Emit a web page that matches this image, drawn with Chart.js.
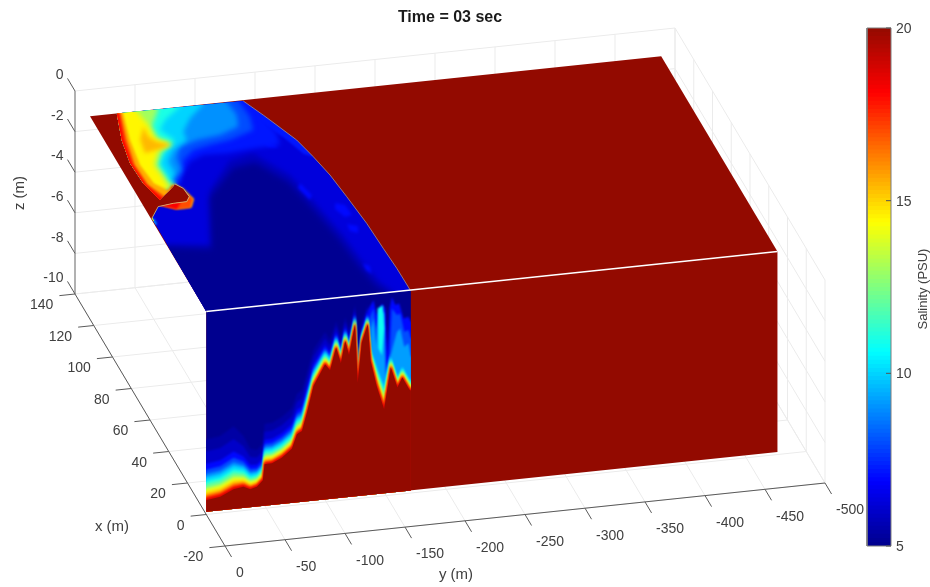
<!DOCTYPE html>
<html><head><meta charset="utf-8">
<style>html,body{margin:0;padding:0;background:#fff}canvas{display:block}</style>
<script src="https://cdn.jsdelivr.net/npm/chart.js@4"></script>
</head><body><canvas id="c" width="930" height="587"></canvas>
<script>
/* ---------- tick labels ---------- */
const titleText = 'Time = 03 sec';
const xTicks = [-20,0,20,40,60,80,100,120,140];
const yTicks = [0,-50,-100,-150,-200,-250,-300,-350,-400,-450,-500];
const zTicks = [0,-2,-4,-6,-8,-10];
const colorTicks = [5,10,15,20];

/* ---------- surface extents (m) ---------- */
const surfaceXMax = 124, surfaceYMin = -476, floorZ = -9.87, plumeYEnd = -170.5;

/* ---------- front face (x = 0): saline interface ---------- */
const frontY = [0,-11.7,-22.8,-31,-36.7,-42.2,-47.2,-48.6,-54.8,-63,-71.4,-75.6,-79.8,-84,-89.4,-99,-103.2,-108.2,-112.2,-115.8,-119,-124,-126.2,-129.6,-134.6,-137,-142,-148.2,-153.8,-159.3,-163.4,-169.3,-170.5];
const frontZ = [-9.3,-9.2,-8.9,-8.83,-8.99,-8.89,-8.6,-7.83,-7.82,-7.59,-7.2,-6.52,-6.38,-5.5,-4.23,-3.22,-3.54,-2.45,-3.25,-2.17,-2.88,-1.4,-4.29,-2.34,-1.46,-3.29,-4.55,-5.73,-3.71,-4.73,-4.27,-4.91,-4.95];
const frontThick = [3,3,3.1,2.5,2,1.8,1.8,2,2,2,2,2,2,2,1.8,1.6,1.5,1.3,1.3,1.2,1.2,1,1,1,1,1.5,2.5,3,1.4,1.4,1.4,1.4,1.4];
const bandSalinity = [5.4,6,7,8,9,10,11,12,13,14,15,16,17,18,19];
const bandFraction = [1,.8,.6,.5,.43,.38,.32,.27,.22,.18,.14,.1,.07,.04,.02];
/* plumes near the right end of the front face: [y, z] */
const plumeS7  = [[-132.5,-1.26],[-135.3,-.7],[-139.4,-.31],[-142.2,-1.07],[-146.4,-.52],[-149.2,-.78],[-151.1,-3.25],[-152.8,-.8],[-154.7,-.24],[-157.5,-.66],[-160.8,-.6],[-164.4,-1.36],[-168.6,-1.3],[-170.5,-1.56]];
const plumeS8  = [[-135.3,-1.27],[-139.4,-.72],[-141.7,-1.72],[-145,-.76],[-148.3,-.94],[-150,-3.9],[-152.8,-3.1],[-154.7,-.81],[-158.9,-1.16],[-161.7,-1.1],[-165,-2.02],[-168.6,-1.96],[-170.5,-2.38]];
const plumeS95 = [[-137.2,-1.7],[-139.4,-1.2],[-141.7,-2.54],[-144.2,-.91],[-147.8,-1.02],[-149.4,-4.15],[-153.3,-3.18],[-158.9,-1.99],[-161.7,-1.84],[-165,-2.76],[-168.6,-2.61],[-170.5,-3.28]];
const streakS11= [[-142.8,-.74],[-147.2,-.6],[-148.3,-1.76],[-146.4,-3.06],[-143.6,-2.72]];

/* ---------- top face (z = 0): contours [x, y] ---------- */
const redEdge = [[124,-22.3],[107.8,-13.7],[93.4,-9.4],[80.5,-10.5],[69.6,-15.7]];
const lobeTop = [78.1,-35];
const bumpEdge = [[59,-.7],[65.7,-11.3],[66.7,-24.7],[66.9,-36],[69.7,-40.3],[75,-39.5],[78.1,-35]];
const outerFront = [[123.5,-127.3],[113.8,-136.4],[110.4,-139.4],[96.8,-151],[85.8,-156.2],[73.8,-160.8],[59.8,-163.8],[42.6,-167],[26.7,-168.3],[13.9,-169.6],[0,-170]];
const kernelOuter = [[-8,8],[42.2,8],[42.2,0],[39.3,-36.3],[72.4,-59.6],[89,-89.3],[91.8,-110.7],[76.3,-129.4],[56.7,-136.6],[37.1,-143],[19.8,-146],[6.7,-150.1],[.6,-156],[-8,-156]];
const kernelInner = [[-8,8],[41,8],[41,0],[37,-33],[68,-56],[84,-88],[86,-108],[72,-125],[54,-132],[35,-138],[18,-141],[5,-145],[0,-150],[-8,-150]];
const rimBand = [[130,-127.3],[118,-140],[104,-154],[90,-162],[85.8,-156.2],[88,-150],[98,-143],[110,-131],[122,-124]];
const contourS7 = [[124,-127],[115.1,-134.7],[102.1,-138.4],[94.8,-135.6],[94.5,-113.1],[93.3,-89.8],[93.8,-70.8],[90.6,-57.2],[82.1,-43.6],[77.2,-38.4],lobeTop];
const contourS8 = [[124,-123.6],[113.7,-125.2],[105.5,-121.6],[101,-98.7],[99.2,-80.7],[97.3,-65.3],[92,-52.7],[84.1,-45.2],[78.4,-36.6],lobeTop];
const contourS9 = [[124,-113.9],[115.6,-115.6],[108.5,-111.5],[104.6,-93.2],[103.1,-72.6],[100.1,-56.3],[93.4,-48.3],[86.1,-46.7],[80.7,-34.3],lobeTop];
const contourS10= [[124,-94.4],[116.5,-77.5],[108.9,-65.9],[103.7,-64.8],[98.5,-49.6],[92,-40.2],[84.5,-40],[79.2,-32.2],lobeTop];
const contourS11= [[124,-75],[117.1,-57.1],[111.4,-48.4],[104.4,-55.6],[98.1,-42.3],[91.5,-32.9],[83,-33.2],[78.8,-31.9],lobeTop];
const contourS13= [[124,-56.9],[113.9,-43.5],[106.5,-43.2],[102.5,-52.7],[98.3,-39.7],[90.6,-30.1],[82.1,-30.6],[78.3,-30.5],lobeTop];
const contourS145=[[124,-38.9],[115.1,-41.7],[106.7,-40.6],[102.4,-49.8],[99.5,-37.8],[90.9,-27.4],[82.3,-28.6],[78,-28.5],lobeTop];
const spineS153 = [[114.4,-37],[108.1,-36.2],[104.6,-40.4],[101.6,-50.6],[99.9,-38.1],[98.4,-25.8],[106.6,-28.2]];
const crescentS156=[[124,-27.5],[107.3,-20.3],[91.7,-16.5],[79.9,-18.8],[75,-26.2],[77.7,-31.9],[78.1,-35],[75,-39.5],[68,-43],[63,-37],[63,-24.7]];
const crescentS17 =[[124,-25.5],[107.5,-17.7],[92,-12.5],[79.2,-13.6],[71.3,-21.3],[77,-32.8],[74.5,-37.7],[68,-42],[63,-36],[63,-25]];
const crescentS185=[[124,-24],[107.6,-15.6],[92.8,-10.9],[79.8,-11.9],[70.2,-18.5],[72.3,-27.7],[67.8,-32.4],[63,-24.7]];
const lobeCore = [[76.7,-31.2],[75.2,-36.9],[69.9,-38.8],[67.8,-32.4],[72.3,-27.7]];
const tipS9 = [[59,-.3],[59,-2.2],[55.5,-2.4],[53.5,4],[59,4]];
const tipS14 = [[59,-.5],[59.5,-1.6],[57.4,-1.4],[56.8,4],[59,4]];
const ripples = [
  [[56.7,-151.7],[54.9,-158.5],[48.6,-159.4],[47.8,-152.9],[52.6,-149.2]],
  [[101,-122.1],[97.2,-130.7],[93.2,-132.6],[94.4,-125.2]],
  [[43.5,-151.3],[41.6,-158.9],[37.4,-155.7],[39.1,-150.3]],
  [[19.2,-145.5],[16.9,-149.6],[12,-147.5],[14.8,-144.7]],
  [[70.9,-133.5],[63,-137.3],[60.1,-133.5],[68,-129.7]]
];

/* ---------- helpers ---------- */
const project = (x,y,z) => ({x:225-(x+20)*.9375-y*1.2, y:546-(x+20)*1.575+y*.126-(z+10)*20.3});
const clamp = v => Math.max(0,Math.min(1,v));
function jet(s){
  const t=(s-5)/15;
  let r=clamp(Math.min(4*t-1.5,-4*t+4.5)), g=clamp(Math.min(4*t-.5,-4*t+3.5)), b=clamp(Math.min(4*t+.5,-4*t+2.5));
  if(t>.875) r=.578+.422*(1-t)/.125;
  if(t<.125) b=.55+.45*t/.125;
  const gExtra = t>.875 ? 10*(t-.875)/.125 : 0;
  return `rgb(${Math.round(r*255)},${Math.round(g*255+gExtra)},${Math.round(b*255)})`;
}
const sets=[];
function poly(points,color,soft,blur){
  const pts=points.concat([points[0]]);
  sets.push({data:pts,showLine:true,pointRadius:0,borderWidth:0,borderColor:color,backgroundColor:color,fill:'shape',tension:0,soft:soft||null,blur:blur||1,order:-sets.length});
}
function line(points,color,width){
  sets.push({data:points,showLine:true,pointRadius:0,borderWidth:width,borderColor:color,fill:false,tension:0,order:-sets.length});
}
const top3 = a => a.map(p=>project(p[0],p[1],0));
const front3 = a => a.map(p=>project(0,p[0],p[1]));

/* ---------- box grid ---------- */
const gridColor='#ebebeb';
const axX0=-20,axX1=140,axY0=0,axY1=-500,axZ0=-10,axZ1=0;
yTicks.forEach(y=>line([project(axX0,y,axZ0),project(axX1,y,axZ0),project(axX1,y,axZ1)],gridColor,1));
xTicks.forEach(x=>line([project(x,axY0,axZ0),project(x,axY1,axZ0),project(x,axY1,axZ1)],gridColor,1));
zTicks.forEach(z=>line([project(axX1,axY0,z),project(axX1,axY1,z),project(axX0,axY1,z)],gridColor,1));

/* ---------- axes ---------- */
const axisColor='#5a5a5a';
line([project(axX0,0,axZ0),project(axX1,0,axZ0)],axisColor,1);
line([project(axX0,0,axZ0),project(axX0,axY1,axZ0)],axisColor,1);
line([project(axX1,0,axZ0),project(axX1,0,axZ1)],'#a0a0a0',1.6);
xTicks.forEach(x=>line([project(x,0,axZ0),project(x,13,axZ0)],axisColor,1));
yTicks.forEach(y=>line([project(axX0,y,axZ0),project(axX0-7,y,axZ0)],axisColor,1));
zTicks.forEach(z=>line([project(axX1,0,z),project(axX1+8,0,z)],axisColor,1));

/* ---------- top face ---------- */
const RED=jet(20);
poly(top3([[0,0],[0,surfaceYMin],[surfaceXMax,surfaceYMin],[surfaceXMax,0]]),RED);
const redBack=[...redEdge].reverse();
const redBackOut=redBack.map(p=>[p[0],p[1]+12]);
const water=[[0,-170],[0,0],...bumpEdge,[76,-31],...redBack,...outerFront.slice(0,-1)];
const extendBack=c=>[[134,c[0][1]],...c,...redBackOut,[134,-10]];
poly(top3(water),jet(6.3));
poly(top3(kernelOuter),jet(5.8),'top',2.5);
poly(top3(kernelInner),jet(5.1),'top',3);
poly(top3(rimBand),jet(7.2),'top',1.2);
ripples.forEach(r=>poly(top3(r),jet(7),'top',1.4));
[[contourS7,7.2],[contourS8,8],[contourS9,9],[contourS10,10],[contourS11,11],[contourS13,13],[contourS145,14.5]].forEach(([c,s])=>poly(top3(extendBack(c)),jet(s),'top',2.4));
poly(top3(spineS153),jet(15.4),'top',2);
[[crescentS156,15.6],[crescentS17,17],[crescentS185,18.2]].forEach(([c,s])=>poly(top3(extendBack(c)),jet(s),'top',1.2));
poly(top3(lobeCore),jet(20),'top',.8);
poly(top3(tipS9),jet(9),'top',.8);
poly(top3(tipS14),jet(14),'top',.6);
line(top3(bumpEdge),'#d9c27a',.8);
line(top3(outerFront),'#a88c84',.8);

/* ---------- front face ---------- */
poly(front3([[0,0],[surfaceYMin,0],[surfaceYMin,floorZ],[0,floorZ]]),RED);
const blueBase=[[0,0],[plumeYEnd,0],...frontY.map((y,i)=>[y,frontZ[i]-.25]).reverse()];
poly(front3(blueBase),jet(5.05));
function bandPoly(fr){
  const curve=frontY.map((y,i)=>[y,Math.min(-.02,frontZ[i]+frontThick[i]*fr)]);
  return front3([[6,curve[0][1]],...curve,[plumeYEnd-6,curve[curve.length-1][1]],[plumeYEnd-6,floorZ-1],[6,floorZ-1]]);
}
function plumePoly(p){return front3([...p,[plumeYEnd-6,p[p.length-1][1]],[plumeYEnd-6,floorZ-1],[p[0][0],floorZ-1]]);}
bandSalinity.forEach((s,i)=>{
  poly(bandPoly(bandFraction[i]),jet(s),'front',.8);
  if(s===7) poly(plumePoly(plumeS7),jet(7),'front',1);
  if(s===8) poly(plumePoly(plumeS8),jet(8),'front',1);
  if(s===9) poly(plumePoly(plumeS95),jet(9.2),'front',1);
  if(s===10) poly(front3(streakS11),jet(10.8),'front',1.2);
});
poly(bandPoly(0),RED,'front',.6);

/* edge highlight between the faces */
line([project(0,0,0),project(0,surfaceYMin,0)],'#ffffff',1.5);

/* ---------- colour bar ---------- */
const barLeft=867,barRight=891,barBottom=546,barPerUnit=518/15;
const barY=s=>barBottom-(s-5)*barPerUnit;
for(let k=0;k<128;k++){
  const s0=5+15*k/128,s1=5+15*(k+1)/128,c=jet((s0+s1)/2);
  const topEdge=k===127?barY(s1):barY(s1)-1;
  poly([{x:barLeft,y:barY(s0)},{x:barRight,y:barY(s0)},{x:barRight,y:topEdge},{x:barLeft,y:topEdge}],c);
}
line([{x:barLeft,y:barY(5)},{x:barRight,y:barY(5)},{x:barRight,y:barY(20)},{x:barLeft,y:barY(20)},{x:barLeft,y:barY(5)}],'#7d7d7d',1);
colorTicks.forEach(s=>line([{x:barRight-5,y:barY(s)},{x:barRight,y:barY(s)}],'#555555',1));

/* ---------- text & soft-layer plugins ---------- */
const textPlugin={id:'labels',afterDraw(chart){
  const {ctx,scales:{x:sx,y:sy}}=chart;
  const put=(t,px,py,o={})=>{
    ctx.save();
    ctx.translate(sx.getPixelForValue(px),sy.getPixelForValue(py));
    if(o.rot) ctx.rotate(o.rot);
    ctx.font=o.font||'14px "Liberation Sans"';
    ctx.fillStyle=o.color||'#404040';
    ctx.textAlign=o.align||'center';
    ctx.textBaseline='middle';
    ctx.fillText(t,0,0);
    ctx.restore();
  };
  put(titleText,450,18,{font:'bold 16px "Liberation Sans"',color:'#1a1a1a'});
  xTicks.forEach(v=>{const p=project(v,13,axZ0);put(String(v),p.x-6,p.y+10,{align:'right'});});
  yTicks.forEach(v=>{const p=project(axX0,v,axZ0);put(String(v),p.x+11,p.y+27.5,{align:'left'});});
  zTicks.forEach(v=>{const p=project(axX1+8,0,v);put(String(v),p.x-4,p.y-3,{align:'right'});});
  colorTicks.forEach(v=>put(String(v),896,barY(v)+1,{align:'left'}));
  put('x (m)',112,527,{font:'15px "Liberation Sans"'});
  put('y (m)',456,575,{font:'15px "Liberation Sans"'});
  put('z (m)',20,193,{font:'15px "Liberation Sans"',rot:-Math.PI/2});
  put('Salinity (PSU)',923,289,{font:'13px "Liberation Sans"',rot:-Math.PI/2});
}};
function clipFor(chart,kind){
  const ctx=chart.ctx,pts=kind==='top'?top3(water):front3([[0,0],[plumeYEnd,0],[plumeYEnd,floorZ],[0,floorZ]]);
  const sx=chart.scales.x,sy=chart.scales.y;
  ctx.beginPath();
  pts.forEach((p,i)=>{const X=sx.getPixelForValue(p.x),Y=sy.getPixelForValue(p.y);i?ctx.lineTo(X,Y):ctx.moveTo(X,Y);});
  ctx.closePath();ctx.clip();
}
function arm(chart,i){
  const d=chart.data.datasets[i];
  if(d&&d.soft){chart.ctx.save();clipFor(chart,d.soft);chart.ctx.filter=`blur(${d.blur}px)`;}
}
const softPlugin={id:'softLayers',
  beforeDatasetsDraw(chart){arm(chart,0);},
  afterDatasetDraw(chart,args){
    const d=chart.data.datasets[args.index];
    if(d.soft) chart.ctx.restore();
    arm(chart,args.index+1);
  }};

new Chart(document.getElementById('c'),{
  type:'scatter',
  data:{datasets:sets},
  options:{
    responsive:false,animation:false,devicePixelRatio:1,events:[],
    layout:{padding:0},
    plugins:{legend:{display:false},tooltip:{enabled:false},title:{display:false}},
    scales:{
      x:{type:'linear',min:0,max:930,display:false},
      y:{type:'linear',min:0,max:587,reverse:true,display:false}
    }
  },
  plugins:[softPlugin,textPlugin]
});
</script></body></html>
